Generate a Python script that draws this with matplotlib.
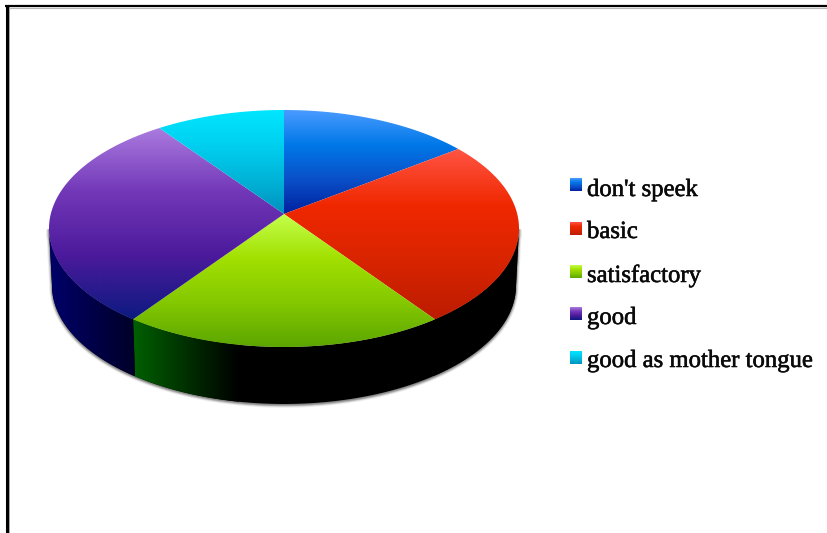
"""
Pie chart with a fake 3D look: glossy slices and an extruded side.
"""

import matplotlib

matplotlib.use("Agg")
import matplotlib.patheffects as pe
import matplotlib.pyplot as plt
import numpy as np
from matplotlib.colors import LinearSegmentedColormap, to_rgb
from matplotlib.patches import PathPatch, Polygon
from matplotlib.path import Path

labels = ["don't speek", "basic", "satisfactory", "good", "good as mother tongue"]
shares = [13.3, 25.6, 22.2, 30.0, 8.9]

top_colors = [
    ["#4a9bff", "#0078e8", "#0a50c8", "#0020a0"],
    ["#ff5545", "#f02800", "#d82400", "#bc1c00"],
    ["#c4ff4c", "#a2e000", "#84c800", "#5ca600"],
    ["#ac7ce0", "#7238b8", "#4c1a9c", "#0c1a80"],
    ["#00e6ff", "#00d0f0", "#00b4d8", "#0090c0"],
]
side_colors = [
    ["#000000", "#000000"],
    ["#000000", "#000000"],
    ["#006000", "#000000"],
    ["#00006a", "#000028"],
    ["#000000", "#000000"],
]

W, H = 827, 533
CX, CY, RX, RY = 284, 228.5, 235, 118.5
APEX = (284, 214)
# lower rim of the body is a bit narrower because of the perspective
LOW_CY, LOW_RX, LOW_RY = 285.5, 232, 118.5


def rim(t):
    return np.column_stack([CX + RX * np.sin(t), CY - RY * np.cos(t)])


def low_rim(t):
    return np.column_stack([CX + LOW_RX * np.sin(t), LOW_CY - LOW_RY * np.cos(t)])


def fill_gradient(ax, path, colors, box, vertical=True, zorder=3):
    x0, x1, y0, y1 = box
    cmap = LinearSegmentedColormap.from_list("g", [to_rgb(c) for c in colors])
    ramp = np.linspace(0, 1, 256)
    data = ramp[:, None] if vertical else ramp[None, :]
    im = ax.imshow(data, cmap=cmap, vmin=0, vmax=1, extent=(x0, x1, y1, y0),
                   origin="upper", aspect="auto", interpolation="bilinear", zorder=zorder)
    patch = PathPatch(path, transform=ax.transData, fc="none", ec="none")
    ax.add_patch(patch)
    im.set_clip_path(patch)


fig = plt.figure(figsize=(W / 100, H / 100), dpi=100)
ax = fig.add_axes([0, 0, 1, 1])

# soft shadow under the body
t_low = np.linspace(np.pi / 2, 3 * np.pi / 2, 200)
body = np.vstack([rim(t_low), low_rim(t_low)[::-1]])
for lw, alpha in [(4.0, 0.12), (2.6, 0.25), (1.4, 0.45)]:
    ax.add_patch(Polygon(body + [0, 1], closed=True, fc="#808080", ec="#707070",
                         lw=lw, alpha=alpha, zorder=1))
ax.add_patch(Polygon(body, closed=True, fc="black", ec="none", zorder=2))

bounds = np.radians(np.cumsum([0] + shares) * 3.6)

# side walls first, then the top of the pie
for i in range(len(shares)):
    lo = max(bounds[i], np.pi / 2)
    hi = min(bounds[i + 1], 3 * np.pi / 2)
    if hi <= lo:
        continue
    t = np.linspace(lo, hi, 80)
    wall = np.vstack([rim(t), low_rim(t)[::-1]])
    x0, x1 = wall[:, 0].min(), wall[:, 0].max()
    if i == 2:
        # green wall fades to black before it ends
        x1 = x0 + 106
    fill_gradient(ax, Path(wall), side_colors[i], (x0, x1, wall[:, 1].min(), wall[:, 1].max()),
                  vertical=False)

for i in range(len(shares)):
    arc = rim(np.linspace(bounds[i], bounds[i + 1], 120))
    verts = np.vstack([[APEX], arc, [APEX]])
    box = (verts[:, 0].min(), verts[:, 0].max(), verts[:, 1].min(), verts[:, 1].max())
    fill_gradient(ax, Path(verts), top_colors[i], box, zorder=4)

# legend
swatch_top = [178, 222, 265, 307, 351]
baselines = [196, 238, 282, 324, 367]
for i, label in enumerate(labels):
    x0, y0 = 570, swatch_top[i]
    square = np.array([[x0, y0], [x0 + 12, y0], [x0 + 12, y0 + 13], [x0, y0 + 13], [x0, y0]])
    fill_gradient(ax, Path(square), top_colors[i], (x0, x0 + 12, y0, y0 + 13), zorder=5)
    ax.text(587, baselines[i], label, family="Liberation Serif", fontsize=17.8,
            color="#0a0a0a", va="baseline", ha="left", zorder=6,
            path_effects=[pe.withStroke(linewidth=0.4, foreground="#0a0a0a")])

# frame left over from the screenshot
ax.plot([9, 9], [6, H], color="#a8a8a8", lw=1.4, solid_capstyle="butt", zorder=6)
ax.plot([9, W], [7.5, 7.5], color="#b8b8b8", lw=0.8, solid_capstyle="butt", zorder=6)
ax.plot([6.5, 6.5], [5, H], color="black", lw=2.2, solid_capstyle="butt", zorder=7)
ax.plot([5, W], [6, 6], color="black", lw=1.6, solid_capstyle="butt", zorder=7)

ax.set_xlim(0, W)
ax.set_ylim(H, 0)
ax.axis("off")

fig.savefig("out.png", dpi=100, facecolor="white")
